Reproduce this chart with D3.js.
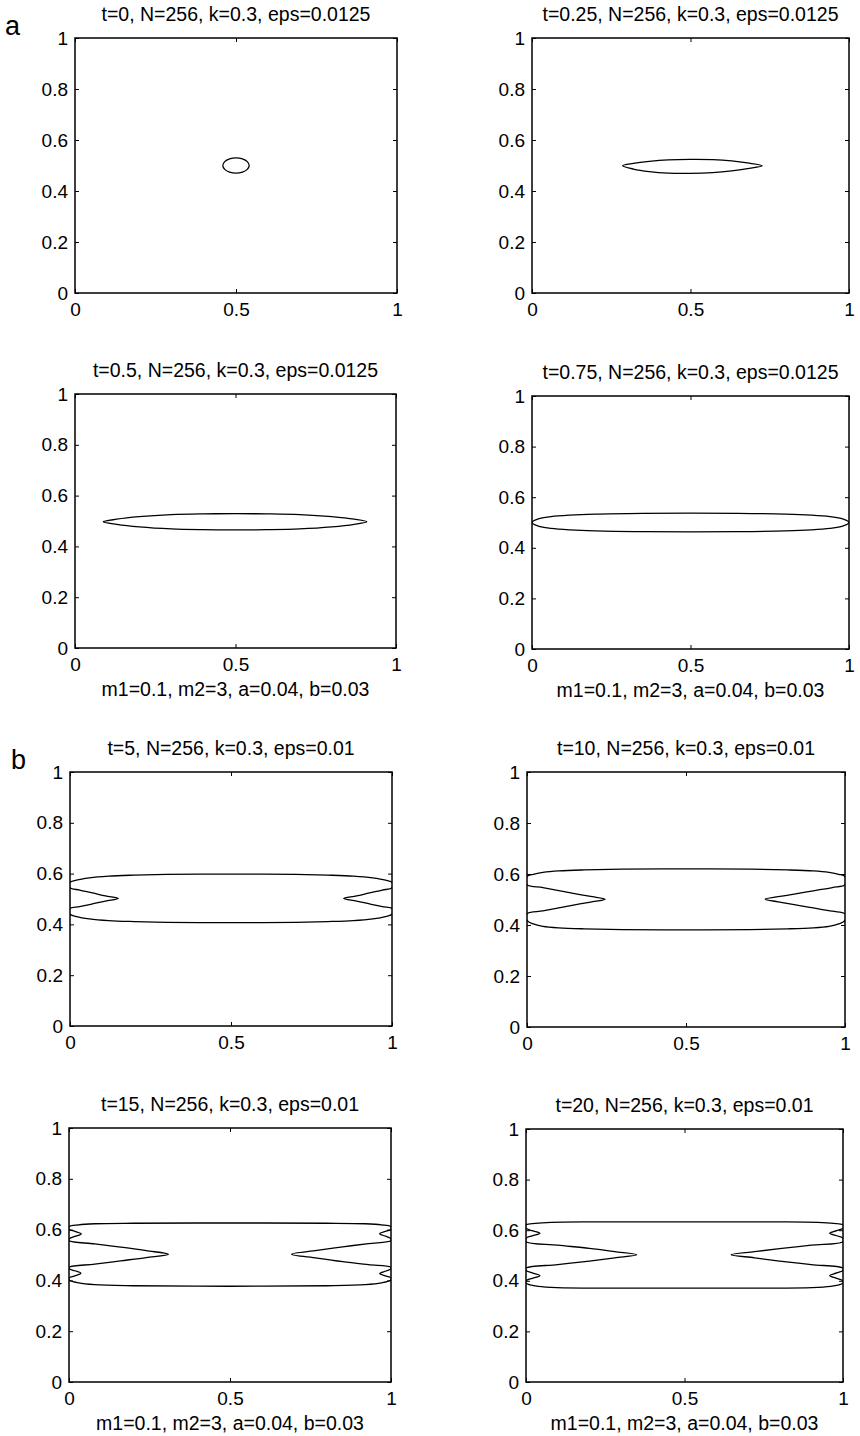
<!DOCTYPE html>
<html>
<head>
<meta charset="utf-8">
<script src="https://cdn.jsdelivr.net/npm/d3@7"></script>
<style>
  html, body { margin: 0; padding: 0; background: #fff; }
  svg { display: block; font-family: "Liberation Sans", Arial, Helvetica, sans-serif; }
</style>
</head>
<body>
<svg id="fig" width="860" height="1436"></svg>
<script>
// ---- axis ticks ----
const xTickValues = [0, 0.5, 1];
const xTickLabels = ["0", "0.5", "1"];
const yTickValues = [0, 0.2, 0.4, 0.6, 0.8, 1];
const yTickLabels = ["0", "0.2", "0.4", "0.6", "0.8", "1"];

// ---- panel titles and parameter line ----
const titles = [
  "t=0, N=256, k=0.3, eps=0.0125",
  "t=0.25, N=256, k=0.3, eps=0.0125",
  "t=0.5, N=256, k=0.3, eps=0.0125",
  "t=0.75, N=256, k=0.3, eps=0.0125",
  "t=5, N=256, k=0.3, eps=0.01",
  "t=10, N=256, k=0.3, eps=0.01",
  "t=15, N=256, k=0.3, eps=0.01",
  "t=20, N=256, k=0.3, eps=0.01"
];
const paramCaption = "m1=0.1, m2=3, a=0.04, b=0.03";
const groupLabels = ["a", "b"];

// ---- interface contours (closed curves, [x, y] in the unit square) ----
const contourT0 = [
  [0.541, 0.5], [0.535, 0.515], [0.52, 0.526], [0.5, 0.53], [0.48, 0.526], [0.465, 0.515],
  [0.459, 0.5], [0.465, 0.485], [0.48, 0.474], [0.5, 0.47], [0.52, 0.474], [0.535, 0.485]
];
const contourT025 = [
  [0.286, 0.499], [0.32, 0.508], [0.37, 0.516], [0.43, 0.522], [0.5, 0.524], [0.57, 0.523],
  [0.63, 0.518], [0.68, 0.51], [0.726, 0.499], [0.68, 0.488], [0.63, 0.479], [0.57, 0.472],
  [0.5, 0.469], [0.43, 0.47], [0.37, 0.476], [0.32, 0.486]
];
const contourT05 = [
  [0.088, 0.497], [0.13, 0.507], [0.2, 0.517], [0.3, 0.525], [0.4, 0.528], [0.5, 0.529],
  [0.6, 0.528], [0.7, 0.525], [0.8, 0.517], [0.87, 0.507], [0.909, 0.497], [0.87, 0.487],
  [0.8, 0.477], [0.7, 0.469], [0.6, 0.466], [0.5, 0.465], [0.4, 0.466], [0.3, 0.469],
  [0.2, 0.477], [0.13, 0.487]
];
const contourT075 = [
  [0, 0.5], [0.02, 0.514], [0.06, 0.523], [0.12, 0.529], [0.2, 0.533], [0.35, 0.536],
  [0.5, 0.537], [0.65, 0.536], [0.8, 0.533], [0.88, 0.529], [0.94, 0.523], [0.98, 0.514],
  [1, 0.5], [0.98, 0.486], [0.94, 0.477], [0.88, 0.471], [0.8, 0.467], [0.65, 0.464],
  [0.5, 0.463], [0.35, 0.464], [0.2, 0.467], [0.12, 0.471], [0.06, 0.477], [0.02, 0.486]
];
const contourT5 = [
  [0, 0.565], [0.02, 0.574], [0.06, 0.583], [0.12, 0.59], [0.2, 0.594], [0.3, 0.597],
  [0.4, 0.598], [0.5, 0.598], [0.6, 0.598], [0.7, 0.597], [0.8, 0.594], [0.88, 0.59],
  [0.94, 0.583], [0.98, 0.574], [1, 0.565],
  [1, 0.545], [0.97, 0.535], [0.93, 0.524], [0.89, 0.512], [0.85, 0.502],
  [0.89, 0.492], [0.93, 0.481], [0.97, 0.47], [1, 0.463],
  [1, 0.44], [0.98, 0.431], [0.94, 0.422], [0.88, 0.415], [0.8, 0.411], [0.7, 0.408],
  [0.6, 0.407], [0.5, 0.407], [0.4, 0.407], [0.3, 0.408], [0.2, 0.411], [0.12, 0.415],
  [0.06, 0.422], [0.02, 0.431], [0, 0.44],
  [0, 0.463], [0.03, 0.47], [0.07, 0.481], [0.11, 0.492], [0.15, 0.502],
  [0.11, 0.512], [0.07, 0.524], [0.03, 0.535], [0, 0.545]
];
const contourT10 = [
  [0, 0.59], [0.02, 0.599], [0.05, 0.606], [0.1, 0.612], [0.18, 0.616], [0.3, 0.619],
  [0.5, 0.62], [0.7, 0.619], [0.82, 0.616], [0.9, 0.612], [0.95, 0.606], [0.98, 0.599], [1, 0.59],
  [1, 0.558], [0.96, 0.547], [0.9, 0.534], [0.84, 0.521], [0.79, 0.511], [0.749, 0.501],
  [0.79, 0.491], [0.84, 0.48], [0.9, 0.467], [0.96, 0.454], [1, 0.444],
  [1, 0.418], [0.98, 0.404], [0.95, 0.395], [0.9, 0.389], [0.82, 0.385], [0.7, 0.382],
  [0.5, 0.381], [0.3, 0.382], [0.18, 0.385], [0.1, 0.389], [0.05, 0.395], [0.02, 0.404], [0, 0.418],
  [0, 0.444], [0.05, 0.455], [0.1, 0.467], [0.15, 0.479], [0.2, 0.49], [0.246, 0.501],
  [0.2, 0.512], [0.15, 0.523], [0.1, 0.535], [0.05, 0.547], [0, 0.558]
];
const contourT15 = [
  [0, 0.612], [0.03, 0.619], [0.08, 0.623], [0.2, 0.625], [0.5, 0.626], [0.8, 0.625],
  [0.92, 0.623], [0.97, 0.619], [1, 0.612],
  [1, 0.601], [0.985, 0.594], [0.965, 0.584], [0.985, 0.573], [1, 0.564],
  [1, 0.556], [0.93, 0.545], [0.85, 0.532], [0.77, 0.518], [0.691, 0.503],
  [0.77, 0.488], [0.85, 0.474], [0.93, 0.462], [1, 0.452],
  [1, 0.445], [0.985, 0.437], [0.965, 0.427], [0.985, 0.417], [1, 0.41],
  [1, 0.402], [0.97, 0.39], [0.92, 0.383], [0.8, 0.379], [0.5, 0.377], [0.2, 0.379],
  [0.08, 0.383], [0.03, 0.39], [0, 0.402],
  [0, 0.41], [0.018, 0.418], [0.037, 0.428], [0.018, 0.438], [0, 0.446],
  [0, 0.452], [0.08, 0.464], [0.16, 0.477], [0.24, 0.49], [0.309, 0.503],
  [0.24, 0.517], [0.16, 0.531], [0.08, 0.544], [0, 0.556],
  [0, 0.563], [0.018, 0.573], [0.038, 0.583], [0.018, 0.593], [0, 0.601]
];
const contourT20 = [
  [0, 0.621], [0.03, 0.627], [0.08, 0.631], [0.2, 0.633], [0.5, 0.633], [0.8, 0.633],
  [0.92, 0.631], [0.97, 0.627], [1, 0.621],
  [1, 0.608], [0.98, 0.598], [0.958, 0.588], [0.98, 0.578], [1, 0.568],
  [1, 0.555], [0.9, 0.541], [0.8, 0.527], [0.72, 0.515], [0.647, 0.503],
  [0.72, 0.491], [0.8, 0.478], [0.9, 0.464], [1, 0.45],
  [1, 0.441], [0.98, 0.431], [0.958, 0.42], [0.98, 0.41], [1, 0.4],
  [1, 0.391], [0.97, 0.38], [0.92, 0.374], [0.8, 0.371], [0.5, 0.371], [0.2, 0.371],
  [0.08, 0.374], [0.03, 0.38], [0, 0.391],
  [0, 0.4], [0.02, 0.41], [0.044, 0.42], [0.02, 0.431], [0, 0.441],
  [0, 0.45], [0.1, 0.464], [0.2, 0.478], [0.28, 0.491], [0.349, 0.503],
  [0.28, 0.515], [0.2, 0.528], [0.1, 0.541], [0, 0.555],
  [0, 0.568], [0.02, 0.578], [0.044, 0.588], [0.02, 0.598], [0, 0.608]
];

const contours = [contourT0, contourT025, contourT05, contourT075,
                  contourT5, contourT10, contourT15, contourT20];

// ---- page layout: plot-area boxes [left, right, top, bottom] in px ----
const boxes = [
  [75, 397, 38, 293], [532, 849, 38, 293],
  [75, 396, 394, 648], [532, 849, 396, 649],
  [70, 392, 772, 1026], [527, 845, 772, 1027],
  [69, 391, 1128, 1382], [526, 843, 1129, 1382]
];
const captionRows = [2, 3, 6, 7];   // panels carrying the parameter line

const TICK_FONT = 19, TITLE_FONT = 19.5, TICK_LEN = 4;

const svg = d3.select("#fig");
const defs = svg.append("defs");

boxes.forEach((b, i) => {
  const [L, R, T, B] = b;
  const x = d3.scaleLinear().domain([0, 1]).range([L, R]);
  const y = d3.scaleLinear().domain([0, 1]).range([B, T]);
  const g = svg.append("g").attr("class", "panel");

  defs.append("clipPath").attr("id", "clip" + i)
    .append("rect").attr("x", L).attr("y", T).attr("width", R - L).attr("height", B - T);

  // inward ticks on all four sides
  const fmtX = d => xTickLabels[xTickValues.indexOf(d)];
  const fmtY = d => yTickLabels[yTickValues.indexOf(d)];

  const bottom = g.append("g").attr("transform", `translate(0,${B})`)
    .call(d3.axisBottom(x).tickValues(xTickValues).tickFormat(fmtX)
      .tickSize(-TICK_LEN).tickSizeOuter(0).tickPadding(10));
  const top = g.append("g").attr("transform", `translate(0,${T})`)
    .call(d3.axisTop(x).tickValues(xTickValues).tickFormat("")
      .tickSize(-TICK_LEN).tickSizeOuter(0));
  const left = g.append("g").attr("transform", `translate(${L},0)`)
    .call(d3.axisLeft(y).tickValues(yTickValues).tickFormat(fmtY)
      .tickSize(-TICK_LEN).tickSizeOuter(0).tickPadding(7));
  const right = g.append("g").attr("transform", `translate(${R},0)`)
    .call(d3.axisRight(y).tickValues(yTickValues).tickFormat("")
      .tickSize(-TICK_LEN).tickSizeOuter(0));

  [bottom, top, left, right].forEach(a => {
    a.select(".domain").remove();
    a.selectAll("line").attr("stroke", "#000").attr("stroke-width", 1);
    a.selectAll("text").attr("font-size", TICK_FONT).attr("fill", "#000")
      .attr("font-family", "Liberation Sans, Arial, Helvetica, sans-serif");
  });

  // interface contour
  const line = d3.line().x(d => x(d[0])).y(d => y(d[1])).curve(d3.curveCatmullRomClosed.alpha(0.5));
  g.append("path")
    .attr("d", line(contours[i]))
    .attr("clip-path", `url(#clip${i})`)
    .attr("fill", "none").attr("stroke", "#000").attr("stroke-width", 1.3)
    .attr("stroke-linejoin", "round");

  // frame
  g.append("rect").attr("x", L).attr("y", T).attr("width", R - L).attr("height", B - T)
    .attr("fill", "none").attr("stroke", "#000").attr("stroke-width", 1.5);

  // title
  g.append("text").attr("x", (L + R) / 2).attr("y", T - 17)
    .attr("text-anchor", "middle").attr("font-size", TITLE_FONT).attr("fill", "#000")
    .text(titles[i]);

  if (captionRows.includes(i)) {
    g.append("text").attr("x", (L + R) / 2).attr("y", B + 48)
      .attr("text-anchor", "middle").attr("font-size", TITLE_FONT).attr("fill", "#000")
      .text(paramCaption);
  }
});

// group letters
svg.append("text").attr("x", 5).attr("y", 35).attr("font-size", 27).text(groupLabels[0]);
svg.append("text").attr("x", 11).attr("y", 769).attr("font-size", 27).text(groupLabels[1]);
</script>
</body>
</html>
